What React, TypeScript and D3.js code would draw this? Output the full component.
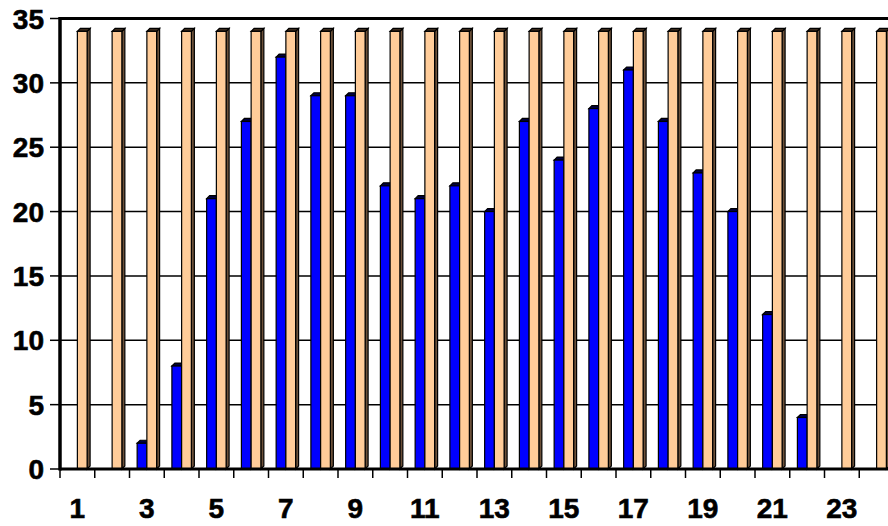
import React from "react";
import * as d3 from "d3";

const categories = Array.from({ length: 24 }, (_, i) => String(i + 1));
const blueValues = [0, 0, 2, 8, 21, 27, 32, 29, 29, 22, 21, 22, 20, 27, 24, 28, 31, 27, 23, 20, 12, 4, 0, 0];
const peachValues = [34, 34, 34, 34, 34, 34, 34, 34, 34, 34, 34, 34, 34, 34, 34, 34, 34, 34, 34, 34, 34, 34, 34, 34];
const yTicks = [0, 5, 10, 15, 20, 25, 30, 35];
const xTickLabels = categories.filter((_, i) => i % 2 === 0);

const W = 888;
const H = 526;
const left = 60;
const step = 34.75;
const right = left + step * 24;
const top = 18.5;
const bottom = 469;
const depth = 3;

const seriesDefs = [
  { key: "blue", values: blueValues, front: "#0000FF", side: "#000070", topc: "#000040" },
  { key: "peach", values: peachValues, front: "#FFCC99", side: "#6B5039", topc: "#3a2a1c" },
];

export default function App() {
  const x0 = d3.scaleBand<string>().domain(categories).range([left, right]).paddingInner(0.44).paddingOuter(0.22);
  const x1 = d3.scaleBand<string>().domain(seriesDefs.map((s) => s.key)).range([0, x0.bandwidth()]);
  const y = d3.scaleLinear().domain([0, 35]).range([bottom, top]);
  const font = "'Liberation Sans', Arial, sans-serif";

  return (
    <svg width={W} height={H} style={{ position: "absolute", left: 0, top: 0, background: "#fff" }}>
      {yTicks.filter((t) => t > 0 && t < 35).map((t) => (
        <line key={"g" + t} x1={left} x2={W} y1={y(t)} y2={y(t)} stroke="#000" strokeWidth={1.5} />
      ))}
      <line x1={left} x2={W} y1={y(35)} y2={y(35)} stroke="#000" strokeWidth={3} />
      {categories.map((c, i) => (
        <g key={c}>
          {seriesDefs.map((s) => {
            const v = s.values[i];
            if (v <= 0) return null;
            const bx0 = (x0(c) as number) + (x1(s.key) as number);
            const bx1 = bx0 + x1.bandwidth();
            const yv = y(v);
            const y0 = y(0);
            const topFace = `${bx0},${yv} ${bx0 + depth},${yv - depth} ${bx1 + depth},${yv - depth} ${bx1},${yv}`;
            const sideFace = `${bx1},${yv} ${bx1 + depth},${yv - depth} ${bx1 + depth},${y0 - depth} ${bx1},${y0}`;
            return (
              <g key={s.key}>
                <polygon points={sideFace} fill={s.side} stroke="#000" strokeWidth={1.2} />
                <polygon points={topFace} fill={s.topc} stroke="#000" strokeWidth={1.2} />
                <rect x={bx0} y={yv} width={bx1 - bx0} height={y0 - yv} fill={s.front} stroke="#000" strokeWidth={1.2} />
              </g>
            );
          })}
        </g>
      ))}
      <line x1={left} x2={left} y1={y(35) - 1.5} y2={y(0) + 1.5} stroke="#000" strokeWidth={3.5} />
      <line x1={left} x2={W} y1={y(0)} y2={y(0)} stroke="#000" strokeWidth={3} />
      {yTicks.map((t) => (
        <g key={"yt" + t}>
          <line x1={50} x2={left} y1={y(t)} y2={y(t)} stroke="#000" strokeWidth={1.5} />
          <text x={44} y={y(t)} dy="0.36em" textAnchor="end" fontFamily={font} fontWeight="bold" fontSize={28} stroke="#000" strokeWidth={0.6}>
            {t}
          </text>
        </g>
      ))}
      {categories.map((c, i) => (
        <line key={"xt" + c} x1={left + i * step} x2={left + i * step} y1={y(0)} y2={y(0) + 9} stroke="#000" strokeWidth={1.5} />
      ))}
      {xTickLabels.map((c) => (
        <text key={"xl" + c} x={(x0(c) as number) + x0.bandwidth() / 2} y={518} textAnchor="middle" fontFamily={font} fontWeight="bold" fontSize={28} stroke="#000" strokeWidth={0.6}>
          {c}
        </text>
      ))}
    </svg>
  );
}
